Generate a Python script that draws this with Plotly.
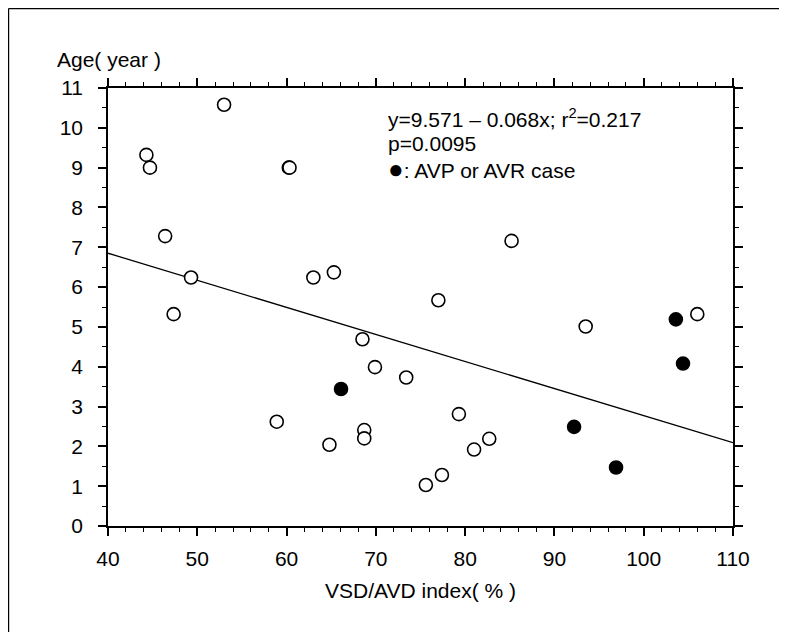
import plotly.graph_objects as go

# Open circles: cases without AVP/AVR
open_x = [53.0, 44.3, 44.7, 60.25, 60.33, 46.4, 49.3, 63.0, 65.3, 47.35, 68.5, 69.9, 73.4,
          58.9, 68.7, 68.7, 64.8, 77.0, 93.5, 106.0, 79.3, 82.7, 81.0, 77.4, 75.6, 85.2]
open_y = [10.58, 9.32, 9.0, 9.0, 9.0, 7.28, 6.24, 6.24, 6.37, 5.32, 4.69, 3.99, 3.73,
          2.62, 2.41, 2.20, 2.04, 5.67, 5.01, 5.32, 2.81, 2.19, 1.92, 1.28, 1.03, 7.16]

# Filled circles: AVP or AVR cases
avp_x = [66.1, 103.6, 104.4, 92.2, 96.9]
avp_y = [3.44, 5.19, 4.08, 2.49, 1.47]

# Regression line y = 9.571 - 0.068x
intercept = 9.571
slope = -0.068
fit_x = [40, 110]
fit_y = [intercept + slope * v for v in fit_x]

x_ticks = [40, 50, 60, 70, 80, 90, 100, 110]
y_ticks = list(range(0, 12))

# page has an 8px body margin; figure coordinates = page - 8
OFF = 8
W, H = 771, 624
L, R, T, B = 100, 46, 80, 106
pw, ph = W - L - R, H - T - B

def px(xp):
    return (xp - OFF - L) / pw

def py(yp):
    return (H - B - (yp - OFF)) / ph

FONT = "Liberation Sans, Arial, sans-serif"
FS = 21

fig = go.Figure()
fig.add_trace(go.Scatter(x=fit_x, y=fit_y, mode="lines",
                         line=dict(color="black", width=1.3), hoverinfo="skip"))
fig.add_trace(go.Scatter(x=open_x, y=open_y, mode="markers",
                         marker=dict(symbol="circle", size=13, color="white",
                                     line=dict(color="black", width=1.6))))
fig.add_trace(go.Scatter(x=avp_x, y=avp_y, mode="markers",
                         marker=dict(symbol="circle", size=13, color="black",
                                     line=dict(color="black", width=1.6))))

axis_common = dict(
    showgrid=False, zeroline=False, showline=True, linecolor="black", linewidth=1.5,
    mirror="ticks", ticks="outside", ticklen=8, tickwidth=1.5, tickcolor="black",
    tickfont=dict(family=FONT, size=FS, color="black"),
)

fig.update_xaxes(range=[40, 110], tickvals=x_ticks, ticklabelstandoff=5,
                 minor=dict(dtick=2, tick0=40, ticks="outside", ticklen=4,
                            tickwidth=1.2, tickcolor="black"),
                 **axis_common)
fig.update_yaxes(range=[0, 11], tickvals=y_ticks, ticklabelstandoff=11,
                 minor=dict(dtick=0.5, tick0=0, ticks="outside", ticklen=4,
                            tickwidth=1.2, tickcolor="black"),
                 **axis_common)

ann_font = dict(family=FONT, size=FS, color="black")
annotations = [
    dict(text="Age( year )", x=px(55), y=py(60), xanchor="left", yanchor="middle"),
    dict(text="VSD/AVD index( % )", x=0.5, y=py(590), xanchor="center", yanchor="middle"),
    dict(text="y=9.571 \u2013 0.068x; r<sup>2</sup>=0.217", x=px(386), y=py(118),
         xanchor="left", yanchor="middle"),
    dict(text="p=0.0095", x=px(386), y=py(143), xanchor="left", yanchor="middle"),
    dict(text="<span style=\"font-size:26px\">\u25CF</span>: AVP or AVR case",
         x=px(386), y=py(169), xanchor="left", yanchor="middle"),
]
for a in annotations:
    a.update(xref="paper", yref="paper", showarrow=False, font=ann_font)

shapes = [
    dict(type="line", xref="paper", yref="paper", x0=px(8.6), y0=py(645), x1=px(8.6), y1=py(8.6),
         line=dict(color="black", width=1.2)),
    dict(type="line", xref="paper", yref="paper", x0=px(8.6), y0=py(8.6), x1=px(800), y1=py(8.6),
         line=dict(color="black", width=1.2)),
]

fig.update_layout(
    width=W, height=H, margin=dict(l=L, r=R, t=T, b=B),
    paper_bgcolor="white", plot_bgcolor="white", showlegend=False,
    annotations=annotations, shapes=shapes,
    font=dict(family=FONT, color="black"),
)

fig.write_html("out.html")
